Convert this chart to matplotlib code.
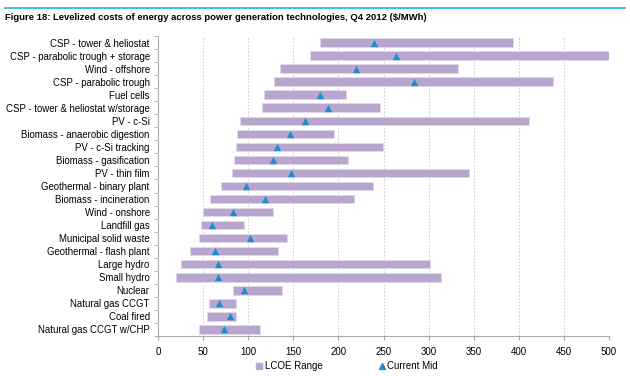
import numpy as np
import matplotlib.pyplot as plt
from matplotlib.lines import Line2D

techs = ['CSP - tower & heliostat', 'CSP - parabolic trough + storage', 'Wind - offshore',
         'CSP - parabolic trough', 'Fuel cells', 'CSP - tower & heliostat w/storage',
         'PV - c-Si', 'Biomass - anaerobic digestion', 'PV - c-Si tracking',
         'Biomass - gasification', 'PV - thin film', 'Geothermal - binary plant',
         'Biomass - incineration', 'Wind - onshore', 'Landfill gas', 'Municipal solid waste',
         'Geothermal - flash plant', 'Large hydro', 'Small hydro', 'Nuclear',
         'Natural gas CCGT', 'Coal fired', 'Natural gas CCGT w/CHP']
low = [180, 169, 135, 129, 117, 115, 91, 88, 86, 84, 82, 70,
       58, 50, 48, 45, 36, 25, 20, 83, 56, 54, 46]
high = [394, 500, 333, 438, 208, 246, 411, 195, 249, 211, 345, 238,
        217, 128, 95, 143, 133, 302, 314, 137, 87, 86, 113]
mid = [240, 264, 219, 284, 180, 189, 163, 146, 132, 128, 148, 98,
       119, 83, 60, 102, 63, 66, 67, 95, 68, 80, 73]

bar_col = '#b9a6cf'
tri_col = '#1a8fcc'
plt.rcParams['font.family'] = ['Liberation Sans', 'DejaVu Sans']

fig = plt.figure(figsize=(6.3, 3.76), dpi=100)
ax = fig.add_axes([158/630, 1-336/376, 451/630, 300/376])

y = np.arange(len(techs))
ax.barh(y, np.array(high) - np.array(low), left=low, height=0.65,
        color=bar_col, edgecolor='#e2d8ec', linewidth=0.6, zorder=2)
ax.scatter(mid, y, marker='^', s=28, color=tri_col, zorder=3, linewidths=0)

ax.set_ylim(len(techs) - 0.5, -0.5)
ax.set_xlim(0, 500)
ax.set_xticks(np.arange(0, 501, 50))
ax.set_yticks(y)
ax.set_yticklabels(techs, fontsize=6.9)
ax.set_yticks(np.arange(-0.5, len(techs), 1), minor=True)
ax.tick_params(axis='y', which='major', length=0, pad=6)
ax.tick_params(axis='y', which='minor', length=3, color='#aaaaaa')
ax.tick_params(axis='x', labelsize=7, length=3, color='#aaaaaa', pad=5)
ax.grid(axis='x', linestyle=(0, (2, 2)), color='#c8c8c8', linewidth=0.6, zorder=0)
for s in ['top', 'right']:
    ax.spines[s].set_visible(False)
for s in ['left', 'bottom']:
    ax.spines[s].set_color('#aaaaaa')
    ax.spines[s].set_linewidth(0.8)

handles = [Line2D([], [], marker='s', linestyle='none', color=bar_col, markersize=5),
           Line2D([], [], marker='^', linestyle='none', color=tri_col, markersize=5)]
fig.legend(handles, ['LCOE Range', 'Current Mid'], loc='center', bbox_to_anchor=(346/630, 1-366/376),
           ncol=2, frameon=False, fontsize=7, handletextpad=0.1, columnspacing=5.6, handlelength=1)

fig.add_artist(Line2D([5/630, 625/630], [1-8/376, 1-8/376], color='#1fb3dd', linewidth=1.2))
fig.text(5/630, 1-18/376, 'Figure 18: Levelized costs of energy across power generation technologies, Q4 2012 ($/MWh)',
         fontsize=6.8, fontweight='bold', va='center', ha='left')

fig.savefig('out.png', dpi=100)
